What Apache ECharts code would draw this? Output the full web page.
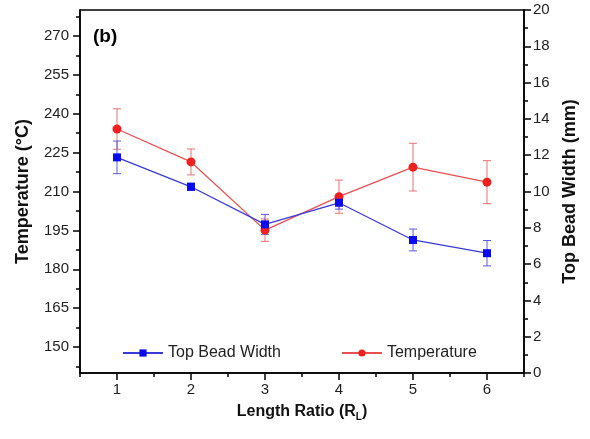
<!DOCTYPE html>
<html>
<head>
<meta charset="utf-8">
<script src="https://cdn.jsdelivr.net/npm/echarts@6/dist/echarts.min.js"></script>
<style>
html,body{margin:0;padding:0;background:#fff;}
#chart{width:590px;height:439px;}
</style>
</head>
<body>
<div id="chart"></div>
<script>
// ---- data ----
const lengthRatio = [1, 2, 3, 4, 5, 6];
const temperature = [234.1, 221.4, 195.1, 208.0, 219.4, 213.6];
const temperatureErr = [7.8, 5.0, 4.3, 6.4, 9.2, 8.3];
const beadWidth = [11.88, 10.26, 8.19, 9.38, 7.33, 6.60];
const beadWidthErr = [0.9, 0.2, 0.55, 0.35, 0.6, 0.7];

// ---- tick labels ----
const xTickLabels = [1, 2, 3, 4, 5, 6];
const tempTickLabels = [150, 165, 180, 195, 210, 225, 240, 255, 270];
const widthTickLabels = [0, 2, 4, 6, 8, 10, 12, 14, 16, 18, 20];

const tempMin = 140, tempMax = 280, tempStep = 2.5;
const tempCats = [];
for (let v = tempMin; v <= tempMax + 1e-9; v += tempStep) tempCats.push(String(v));
const xCats = [];
for (let v = 0.5; v <= 6.5 + 1e-9; v += 0.5) xCats.push(String(v));

const FONT = '"Liberation Sans", Arial, sans-serif';
const RED = '#ee2020', RED_LINE = '#e85050', RED_ERR = '#ec7070';
const BLUE = '#0a0af0', BLUE_LINE = '#3a3ad8', BLUE_ERR = '#5a5ae0';

function isMult(v, base, step) {
  const k = (v - base) / step;
  return Math.abs(k - Math.round(k)) < 1e-6;
}

function errRender(color) {
  return function (params, api) {
    const x = api.value(0), y = api.value(1), e = api.value(2);
    const top = api.coord([x, y + e]);
    const bot = api.coord([x, y - e]);
    const w = 4;
    const style = { stroke: color, lineWidth: 1 };
    return {
      type: 'group',
      children: [
        { type: 'line', shape: { x1: top[0], y1: top[1], x2: bot[0], y2: bot[1] }, style },
        { type: 'line', shape: { x1: top[0] - w, y1: top[1], x2: top[0] + w, y2: top[1] }, style },
        { type: 'line', shape: { x1: bot[0] - w, y1: bot[1], x2: bot[0] + w, y2: bot[1] }, style }
      ]
    };
  };
}

const chart = echarts.init(document.getElementById('chart'), null, { renderer: 'canvas' });
chart.setOption({
  animation: false,
  backgroundColor: '#fff',
  textStyle: { fontFamily: FONT },
  grid: { left: 80, right: 66, top: 10, bottom: 66, show: true, borderColor: '#000', borderWidth: 1.5, backgroundColor: 'transparent' },
  graphic: [{
    type: 'text', left: 93, top: 27,
    style: { text: '(b)', font: 'bold 19px ' + FONT, fill: '#000' }
  }],
  legend: {
    left: 117, top: 340,
    itemWidth: 40, itemHeight: 9, itemGap: 60,
    data: ['Top Bead Width', 'Temperature'],
    textStyle: { fontSize: 16, color: '#222', fontFamily: FONT }
  },
  xAxis: [{
    type: 'value', min: 0.5, max: 6.5, interval: 0.5,
    name: '{a|Length Ratio (R}{s|L}{a|)}',
    nameLocation: 'middle', nameGap: 28,
    nameTextStyle: {
      rich: {
        a: { fontSize: 16, fontWeight: 'bold', color: '#111', fontFamily: FONT, lineHeight: 20 },
        s: { fontSize: 10, fontWeight: 'bold', color: '#111', fontFamily: FONT, lineHeight: 20, verticalAlign: 'bottom', padding: [10, 0, 0, 0] }
      }
    },
    axisLine: { lineStyle: { color: '#000', width: 1.5 } },
    axisTick: { length: 4, lineStyle: { color: '#000', width: 1.5 } },
    axisLabel: {
      fontSize: 15, color: '#222', margin: 9,
      formatter: v => xTickLabels.some(t => Math.abs(t - v) < 1e-6) ? String(Math.round(v)) : ''
    },
    splitLine: { show: false }
  }, {
    type: 'category', data: xCats, boundaryGap: false, position: 'bottom',
    axisLine: { show: false },
    axisLabel: { show: false },
    axisTick: { length: 7, lineStyle: { color: '#000', width: 1.5 }, interval: (i, v) => xTickLabels.some(t => Math.abs(t - Number(v)) < 1e-6) },
    splitLine: { show: false }
  }],
  yAxis: [{
    type: 'value', min: tempMin, max: tempMax, show: false, splitLine: { show: false }
  }, {
    type: 'value', min: 0, max: 20, interval: 2, position: 'right',
    name: 'Top Bead Width (mm)', nameLocation: 'middle', nameGap: 36, nameRotate: 90,
    nameTextStyle: { fontSize: 18, fontWeight: 'bold', color: '#111', fontFamily: FONT },
    axisLine: { show: true, lineStyle: { color: '#000', width: 1.5 } },
    axisTick: { show: true, length: 7, lineStyle: { color: '#000', width: 1.5 } },
    minorTick: { show: true, splitNumber: 2, length: 4, lineStyle: { color: '#000', width: 1.5 } },
    axisLabel: { fontSize: 15, color: '#222', margin: 9, formatter: v => widthTickLabels.includes(v) ? String(v) : '' },
    splitLine: { show: false }, minorSplitLine: { show: false }
  }, {
    type: 'category', data: tempCats, boundaryGap: false, position: 'left',
    name: 'Temperature (°C)', nameLocation: 'middle', nameGap: 48, nameRotate: 90,
    nameTextStyle: { fontSize: 18, fontWeight: 'bold', color: '#111', fontFamily: FONT },
    axisLine: { show: true, lineStyle: { color: '#000', width: 1.5 } },
    axisTick: { show: true, length: 7, lineStyle: { color: '#000', width: 1.5 },
      interval: (i, v) => tempTickLabels.includes(Number(v)) },
    axisLabel: { fontSize: 15, color: '#222', margin: 11,
      interval: (i, v) => tempTickLabels.includes(Number(v)) },
    splitLine: { show: false }
  }, {
    type: 'category', data: tempCats, boundaryGap: false, position: 'left',
    axisLine: { show: false },
    axisTick: { show: true, length: 4, lineStyle: { color: '#000', width: 1.5 },
      interval: (i, v) => isMult(Number(v), 142.5, 7.5) && !tempTickLabels.includes(Number(v)) },
    axisLabel: { show: false },
    splitLine: { show: false }
  }],
  series: [{
    name: 'TempErr', type: 'custom', xAxisIndex: 0, yAxisIndex: 0, z: 1,
    renderItem: errRender(RED_ERR),
    encode: { x: 0, y: 1 },
    data: lengthRatio.map((x, i) => [x, temperature[i], temperatureErr[i]])
  }, {
    name: 'WidthErr', type: 'custom', xAxisIndex: 0, yAxisIndex: 1, z: 1,
    renderItem: errRender(BLUE_ERR),
    encode: { x: 0, y: 1 },
    data: lengthRatio.map((x, i) => [x, beadWidth[i], beadWidthErr[i]])
  }, {
    name: 'Temperature', type: 'line', xAxisIndex: 0, yAxisIndex: 0, z: 3,
    data: lengthRatio.map((x, i) => [x, temperature[i]]),
    symbol: 'circle', symbolSize: 9,
    lineStyle: { color: RED_LINE, width: 1.3 },
    itemStyle: { color: RED },
    color: RED
  }, {
    name: 'Top Bead Width', type: 'line', xAxisIndex: 0, yAxisIndex: 1, z: 4,
    data: lengthRatio.map((x, i) => [x, beadWidth[i]]),
    symbol: 'rect', symbolSize: 8,
    lineStyle: { color: BLUE_LINE, width: 1.3 },
    itemStyle: { color: BLUE },
    color: BLUE
  }]
});
</script>
</body>
</html>
